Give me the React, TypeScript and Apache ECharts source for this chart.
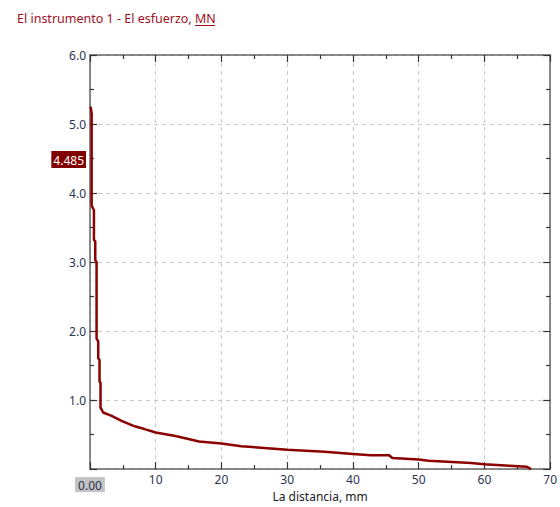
import React, { useEffect, useRef } from "react";
import * as echarts from "echarts";

// distance (mm), force (MN)
const distance = [
  0.1, 0.25, 0.25, 0.6, 0.6, 0.8, 0.8, 1.0, 1.0, 1.25, 1.25, 1.45, 1.45, 1.6, 1.6, 2.0,
  3.3, 4.8, 6.8, 8.3, 10, 13, 16.6, 20, 23, 26, 30, 35.7, 40, 42.7, 45.5, 46, 50, 51.5,
  58, 60, 63.8, 66.4, 67.1,
];
const force = [
  5.25, 5.15, 3.82, 3.75, 3.32, 3.3, 3.03, 3.0, 1.89, 1.85, 1.61, 1.58, 1.27, 1.25, 0.89, 0.82,
  0.77, 0.7, 0.62, 0.58, 0.53, 0.48, 0.4, 0.37, 0.33, 0.31, 0.28, 0.25, 0.22, 0.2, 0.2, 0.16,
  0.14, 0.12, 0.09, 0.07, 0.05, 0.035, 0,
];
const cursorX = 0;
const cursorY = 4.485;
const titleText = "El instrumento 1 - El esfuerzo, MN";
const xName = "La distancia, mm";

const FONT = "Noto Sans";
const AXIS_COLOR = "#646464";
const LABEL_COLOR = "#2c3450";

export default function App() {
  const ref = useRef<HTMLDivElement>(null);
  useEffect(() => {
    const chart = echarts.init(ref.current!, null, { renderer: "svg" });
    const data = distance.map((d, i) => [d, force[i]]);
    const tickCommon = {
      axisLine: { show: true, onZero: false, lineStyle: { color: AXIS_COLOR, width: 1.5 } },
      axisTick: { show: true, inside: true, length: 7, lineStyle: { color: "#333", width: 1.2 } },
      minorTick: { show: true, splitNumber: 2, length: 4, lineStyle: { color: "#333", width: 1.2 } },
    };
    chart.setOption({
      animation: false,
      backgroundColor: "#fff",
      title: {
        text: titleText,
        left: 12,
        top: 7,
        textStyle: { fontFamily: FONT, fontSize: 12.5, fontWeight: "normal", color: "#a0101e" },
      },
      graphic: [
        {
          type: "line",
          shape: { x1: 195, y1: 25.5, x2: 215, y2: 25.5 },
          style: { stroke: "#a0101e", lineWidth: 1 },
        },
      ],
      grid: { left: 90, right: 6, top: 55, bottom: 31, containLabel: false },
      xAxis: [
        {
          type: "value",
          min: 0,
          max: 70,
          interval: 10,
          position: "bottom",
          ...tickCommon,
          axisLabel: {
            fontFamily: FONT,
            fontSize: 12,
            color: LABEL_COLOR,
            margin: 4,
            formatter: (v: number) => (v === 0 ? "" : String(v)),
          },
          splitLine: { show: true, lineStyle: { color: "#c8c8c8", type: [4, 4], width: 1 } },
          name: xName,
          nameLocation: "middle",
          nameGap: 17,
          nameTextStyle: { fontFamily: FONT, fontSize: 12, color: "#222", verticalAlign: "top" },
          axisPointer: {
            show: true,
            value: cursorX,
            status: "show",
            triggerTooltip: false,
            lineStyle: { opacity: 0 },
            label: {
              show: true,
              formatter: (p: any) => Number(p.value).toFixed(2),
              backgroundColor: "#c3c3c3",
              color: "#2c3450",
              fontFamily: FONT,
              fontSize: 12,
              padding: [2, 3, 1, 3],
              margin: 8,
              borderRadius: 0,
              shadowBlur: 0,
            },
          },
        },
        {
          type: "value",
          min: 0,
          max: 70,
          interval: 10,
          position: "top",
          ...tickCommon,
          axisLabel: { show: false },
          splitLine: { show: false },
        },
      ],
      yAxis: [
        {
          type: "value",
          min: 0,
          max: 6,
          interval: 1,
          position: "left",
          ...tickCommon,
          axisLabel: {
            fontFamily: FONT,
            fontSize: 12,
            color: LABEL_COLOR,
            margin: 4,
            formatter: (v: number) => (v === 0 ? "" : v.toFixed(1)),
          },
          splitLine: { show: true, lineStyle: { color: "#c8c8c8", type: [4, 4], width: 1 } },
          axisPointer: {
            show: true,
            value: cursorY,
            status: "show",
            triggerTooltip: false,
            lineStyle: { opacity: 0 },
            label: {
              show: true,
              formatter: (p: any) => Number(p.value).toFixed(3),
              backgroundColor: "#800000",
              color: "#fff",
              fontFamily: FONT,
              fontSize: 12,
              padding: [3, 2, 2, 2],
              margin: 4,
              borderRadius: 0,
              shadowBlur: 0,
            },
          },
        },
        {
          type: "value",
          min: 0,
          max: 6,
          interval: 1,
          position: "right",
          ...tickCommon,
          axisLabel: { show: false },
          splitLine: { show: false },
        },
      ],
      series: [
        {
          type: "line",
          data,
          xAxisIndex: 0,
          yAxisIndex: 0,
          showSymbol: false,
          lineStyle: { color: "#8b0000", width: 2.5 },
          silent: true,
        },
      ],
    });
    return () => chart.dispose();
  }, []);
  return <div ref={ref} style={{ width: 560, height: 507, position: "absolute", left: 0, top: 0 }} />;
}
